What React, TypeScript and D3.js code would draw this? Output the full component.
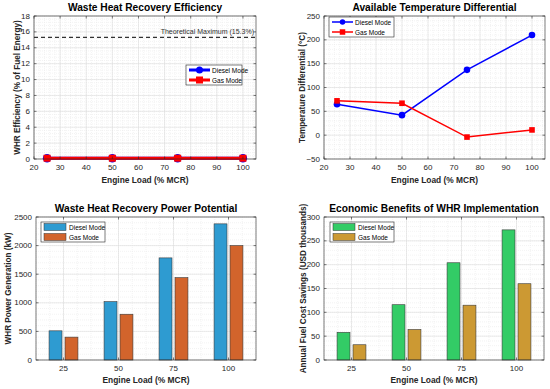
import { useEffect, useRef } from "react";
import * as d3 from "d3";

const loads = [25, 50, 75, 100];
const loadLabels = ["25", "50", "75", "100"];

const effDiesel = [0.1, 0.1, 0.1, 0.1];
const effGas = [0.1, 0.1, 0.1, 0.1];
const theoreticalMax = 15.3;

const tempDiesel = [65, 42, 137, 210];
const tempGas = [72, 67, -4, 11];

const powerDiesel = [510, 1020, 1785, 2380];
const powerGas = [400, 800, 1440, 2000];

const savingsDiesel = [58, 116, 204, 273];
const savingsGas = [32, 64, 115, 160];

const W = 550;
const H = 389;
const FONT = "'Liberation Sans', Arial, sans-serif";
const TICK_COLOR = "#262626";

type Box = { x0: number; x1: number; y0: number; y1: number };

function frame(g: any, b: Box, title: string, ylab: string, ylabX: number, titleY: number, xlabY: number) {
  g.append("text")
    .attr("x", (b.x0 + b.x1) / 2).attr("y", titleY)
    .attr("text-anchor", "middle").attr("font-family", FONT)
    .attr("font-weight", "bold").attr("font-size", 10.2).attr("fill", "#000")
    .text(title);
  g.append("text")
    .attr("x", (b.x0 + b.x1) / 2).attr("y", xlabY)
    .attr("text-anchor", "middle").attr("font-family", FONT)
    .attr("font-weight", "bold").attr("font-size", 8.4).attr("fill", TICK_COLOR)
    .text("Engine Load (% MCR)");
  g.append("text")
    .attr("transform", `translate(${ylabX},${(b.y0 + b.y1) / 2}) rotate(-90)`)
    .attr("text-anchor", "middle").attr("dominant-baseline", "central").attr("font-family", FONT)
    .attr("font-weight", "bold").attr("font-size", 8.2).attr("fill", TICK_COLOR)
    .text(ylab);
}

function grid(g: any, b: Box, xs: number[], xMinor: number[], ys: number[], yMinor: number[]) {
  const gg = g.append("g");
  gg.selectAll(".xm").data(xMinor).join("line")
    .attr("x1", (d: number) => d).attr("x2", (d: number) => d)
    .attr("y1", b.y0).attr("y2", b.y1)
    .attr("stroke", "#e6e6e6").attr("stroke-width", 0.5).attr("stroke-dasharray", "1,1");
  gg.selectAll(".ym").data(yMinor).join("line")
    .attr("y1", (d: number) => d).attr("y2", (d: number) => d)
    .attr("x1", b.x0).attr("x2", b.x1)
    .attr("stroke", "#e6e6e6").attr("stroke-width", 0.5).attr("stroke-dasharray", "1,1");
  gg.selectAll(".xg").data(xs).join("line")
    .attr("x1", (d: number) => d).attr("x2", (d: number) => d)
    .attr("y1", b.y0).attr("y2", b.y1)
    .attr("stroke", "#dedede").attr("stroke-width", 0.6);
  gg.selectAll(".yg").data(ys).join("line")
    .attr("y1", (d: number) => d).attr("y2", (d: number) => d)
    .attr("x1", b.x0).attr("x2", b.x1)
    .attr("stroke", "#dedede").attr("stroke-width", 0.6);
}

function axesBox(g: any, b: Box, xs: number[], xl: string[], ys: number[], yl: string[]) {
  g.append("rect")
    .attr("x", b.x0).attr("y", b.y0).attr("width", b.x1 - b.x0).attr("height", b.y1 - b.y0)
    .attr("fill", "none").attr("stroke", TICK_COLOR).attr("stroke-width", 0.6);
  xs.forEach((x, i) => {
    g.append("line").attr("x1", x).attr("x2", x).attr("y1", b.y1).attr("y2", b.y1 - 2.5).attr("stroke", TICK_COLOR).attr("stroke-width", 0.6);
    g.append("line").attr("x1", x).attr("x2", x).attr("y1", b.y0).attr("y2", b.y0 + 2.5).attr("stroke", TICK_COLOR).attr("stroke-width", 0.6);
    g.append("text").attr("x", x).attr("y", b.y1 + 11).attr("text-anchor", "middle")
      .attr("font-family", FONT).attr("font-size", 8).attr("fill", TICK_COLOR).text(xl[i]);
  });
  ys.forEach((y, i) => {
    g.append("line").attr("x1", b.x0).attr("x2", b.x0 + 2.5).attr("y1", y).attr("y2", y).attr("stroke", TICK_COLOR).attr("stroke-width", 0.6);
    g.append("line").attr("x1", b.x1).attr("x2", b.x1 - 2.5).attr("y1", y).attr("y2", y).attr("stroke", TICK_COLOR).attr("stroke-width", 0.6);
    g.append("text").attr("x", b.x0 - 4).attr("y", y).attr("text-anchor", "end").attr("dominant-baseline", "central")
      .attr("font-family", FONT).attr("font-size", 8).attr("fill", TICK_COLOR).text(yl[i]);
  });
}

function fmt(v: number) {
  return v < 0 ? "\u2212" + Math.abs(v) : String(v);
}

function lineLegend(g: any, x: number, y: number, w: number, h: number, lw: number, ms: number) {
  const lg = g.append("g");
  lg.append("rect").attr("x", x).attr("y", y).attr("width", w).attr("height", h)
    .attr("fill", "#fff").attr("stroke", TICK_COLOR).attr("stroke-width", 0.6);
  const rows = [
    { label: "Diesel Mode", color: "#0000ff", shape: "circle" },
    { label: "Gas Mode", color: "#ff0000", shape: "square" },
  ];
  rows.forEach((r, i) => {
    const cy = y + h * (i + 0.5) / 2;
    lg.append("line").attr("x1", x + 3).attr("x2", x + 24).attr("y1", cy).attr("y2", cy)
      .attr("stroke", r.color).attr("stroke-width", lw);
    if (r.shape === "circle") {
      lg.append("circle").attr("cx", x + 13.5).attr("cy", cy).attr("r", ms / 2).attr("fill", r.color);
    } else {
      lg.append("rect").attr("x", x + 13.5 - ms / 2).attr("y", cy - ms / 2).attr("width", ms).attr("height", ms).attr("fill", r.color);
    }
    lg.append("text").attr("x", x + 26).attr("y", cy).attr("dominant-baseline", "central")
      .attr("font-family", FONT).attr("font-size", 6.5).attr("fill", "#000").text(r.label);
  });
}

function barLegend(g: any, x: number, y: number, w: number, h: number, c1: string, c2: string) {
  const lg = g.append("g");
  lg.append("rect").attr("x", x).attr("y", y).attr("width", w).attr("height", h)
    .attr("fill", "#fff").attr("stroke", TICK_COLOR).attr("stroke-width", 0.6);
  [{ label: "Diesel Mode", c: c1 }, { label: "Gas Mode", c: c2 }].forEach((r, i) => {
    const cy = y + h * (i + 0.5) / 2;
    lg.append("rect").attr("x", x + 3).attr("y", cy - 3.5).attr("width", 22).attr("height", 7)
      .attr("fill", r.c).attr("stroke", "#333").attr("stroke-width", 0.5);
    lg.append("text").attr("x", x + 28).attr("y", cy).attr("dominant-baseline", "central")
      .attr("font-family", FONT).attr("font-size", 6.5).attr("fill", "#000").text(r.label);
  });
}

function range(a: number, b: number, s: number) {
  return d3.range(a, b + s / 2, s);
}

export default function App() {
  const ref = useRef<SVGSVGElement>(null);

  useEffect(() => {
    const svg = d3.select(ref.current);
    svg.selectAll("*").remove();
    svg.append("rect").attr("width", W).attr("height", H).attr("fill", "#fff");

    // Panel 1: efficiency
    {
      const b: Box = { x0: 34, x1: 256, y0: 16, y1: 159 };
      const g = svg.append("g");
      const x = d3.scaleLinear().domain([20, 105]).range([b.x0, b.x1]);
      const y = d3.scaleLinear().domain([0, 18]).range([b.y1, b.y0]);
      const xt = range(20, 100, 10);
      const yt = range(0, 18, 2);
      grid(g, b, xt.map(x), range(20, 104, 2).map(x), yt.map(y), range(0, 18, 0.4).map(y));
      g.append("line").attr("x1", b.x0).attr("x2", b.x1).attr("y1", y(theoreticalMax)).attr("y2", y(theoreticalMax))
        .attr("stroke", "#333").attr("stroke-width", 1.2).attr("stroke-dasharray", "4,3");
      g.append("text").attr("x", b.x1 - 2).attr("y", y(theoreticalMax) - 3).attr("text-anchor", "end")
        .attr("font-family", FONT).attr("font-size", 7).attr("fill", "#333").text(`Theoretical Maximum (${theoreticalMax}%)`);
      const line = d3.line<number>().x((_, i) => x(loads[i])).y((d) => y(d));
      g.append("path").datum(effDiesel).attr("d", line).attr("fill", "none").attr("stroke", "#0000ff").attr("stroke-width", 3);
      g.selectAll(".dm").data(effDiesel).join("circle")
        .attr("cx", (_: number, i: number) => x(loads[i])).attr("cy", (d: number) => y(d)).attr("r", 4.2).attr("fill", "#0000ff");
      g.append("path").datum(effGas).attr("d", line).attr("fill", "none").attr("stroke", "#ff0000").attr("stroke-width", 3);
      g.selectAll(".gm").data(effGas).join("rect")
        .attr("x", (_: number, i: number) => x(loads[i]) - 3.5).attr("y", (d: number) => y(d) - 3.5)
        .attr("width", 7).attr("height", 7).attr("fill", "#ff0000");
      axesBox(g, b, xt.map(x), xt.map(String), yt.map(y), yt.map(String));
      lineLegend(g, 186, 65, 56, 20, 3, 7);
      frame(g, b, "Waste Heat Recovery Efficiency", "WHR Efficiency (% of Fuel Energy)", 17, 11, 183);
    }

    // Panel 2: temperature differential
    {
      const b: Box = { x0: 324, x1: 545, y0: 16, y1: 159 };
      const g = svg.append("g");
      const x = d3.scaleLinear().domain([20, 105]).range([b.x0, b.x1]);
      const y = d3.scaleLinear().domain([-50, 250]).range([b.y1, b.y0]);
      const xt = range(20, 100, 10);
      const yt = range(-50, 250, 50);
      grid(g, b, xt.map(x), range(20, 104, 2).map(x), yt.map(y), range(-50, 250, 10).map(y));
      const line = d3.line<number>().x((_, i) => x(loads[i])).y((d) => y(d));
      g.append("path").datum(tempDiesel).attr("d", line).attr("fill", "none").attr("stroke", "#0000ff").attr("stroke-width", 1.5);
      g.selectAll(".dm").data(tempDiesel).join("circle")
        .attr("cx", (_: number, i: number) => x(loads[i])).attr("cy", (d: number) => y(d)).attr("r", 3.3).attr("fill", "#0000ff");
      g.append("path").datum(tempGas).attr("d", line).attr("fill", "none").attr("stroke", "#ff0000").attr("stroke-width", 1.5);
      g.selectAll(".gm").data(tempGas).join("rect")
        .attr("x", (_: number, i: number) => x(loads[i]) - 2.8).attr("y", (d: number) => y(d) - 2.8)
        .attr("width", 5.6).attr("height", 5.6).attr("fill", "#ff0000");
      axesBox(g, b, xt.map(x), xt.map(String), yt.map(y), yt.map(fmt));
      lineLegend(g, 329, 17, 65, 20, 1.5, 5.5);
      frame(g, b, "Available Temperature Differential", "Temperature Differential (\u00b0C)", 302, 11, 183);
    }

    // Bar panels
    const barPanel = (b: Box, dMax: number, dStep: number, minor: number, d1: number[], d2: number[], c1: string, c2: string,
      title: string, ylab: string, ylabX: number, legX: number) => {
      const g = svg.append("g");
      const x = d3.scaleLinear().domain([0.5, 4.5]).range([b.x0, b.x1]);
      const y = d3.scaleLinear().domain([0, dMax]).range([b.y1, b.y0]);
      const xt = loads.map((_, i) => x(i + 1));
      const yt = range(0, dMax, dStep);
      grid(g, b, xt, range(0.5, 4.5, 0.25).map(x), yt.map(y), range(0, dMax, minor).map(y));
      const bw = x(0.735) - x(0.5);
      const off = x(0.645) - x(0.5);
      [d1, d2].forEach((data, k) => {
        g.selectAll(`.b${k}`).data(data).join("rect")
          .attr("x", (_: number, i: number) => x(i + 1) + (k === 0 ? -off : off) - bw / 2)
          .attr("y", (d: number) => y(d)).attr("width", bw).attr("height", (d: number) => y(0) - y(d))
          .attr("fill", k === 0 ? c1 : c2).attr("stroke", "#3a3a3a").attr("stroke-width", 0.6);
      });
      axesBox(g, b, xt, loadLabels, yt.map(y), yt.map(String));
      barLegend(g, legX, 222, 64, 20, c1, c2);
      frame(g, b, title, ylab, ylabX, 212, 383);
    };

    barPanel({ x0: 36, x1: 256, y0: 217, y1: 360 }, 2500, 500, 100, powerDiesel, powerGas, "#2e9bd1", "#d2642c",
      "Waste Heat Recovery Power Potential", "WHR Power Generation (kW)", 8.5, 41);
    barPanel({ x0: 324, x1: 544, y0: 217, y1: 360 }, 300, 50, 10, savingsDiesel, savingsGas, "#33cc66", "#cc9933",
      "Economic Benefits of WHR Implementation", "Annual Fuel Cost Savings (USD thousands)", 303, 330);
  }, []);

  return (
    <svg ref={ref} width={W} height={H} viewBox={`0 0 ${W} ${H}`}
      style={{ position: "absolute", left: 0, top: 0, display: "block" }} />
  );
}
